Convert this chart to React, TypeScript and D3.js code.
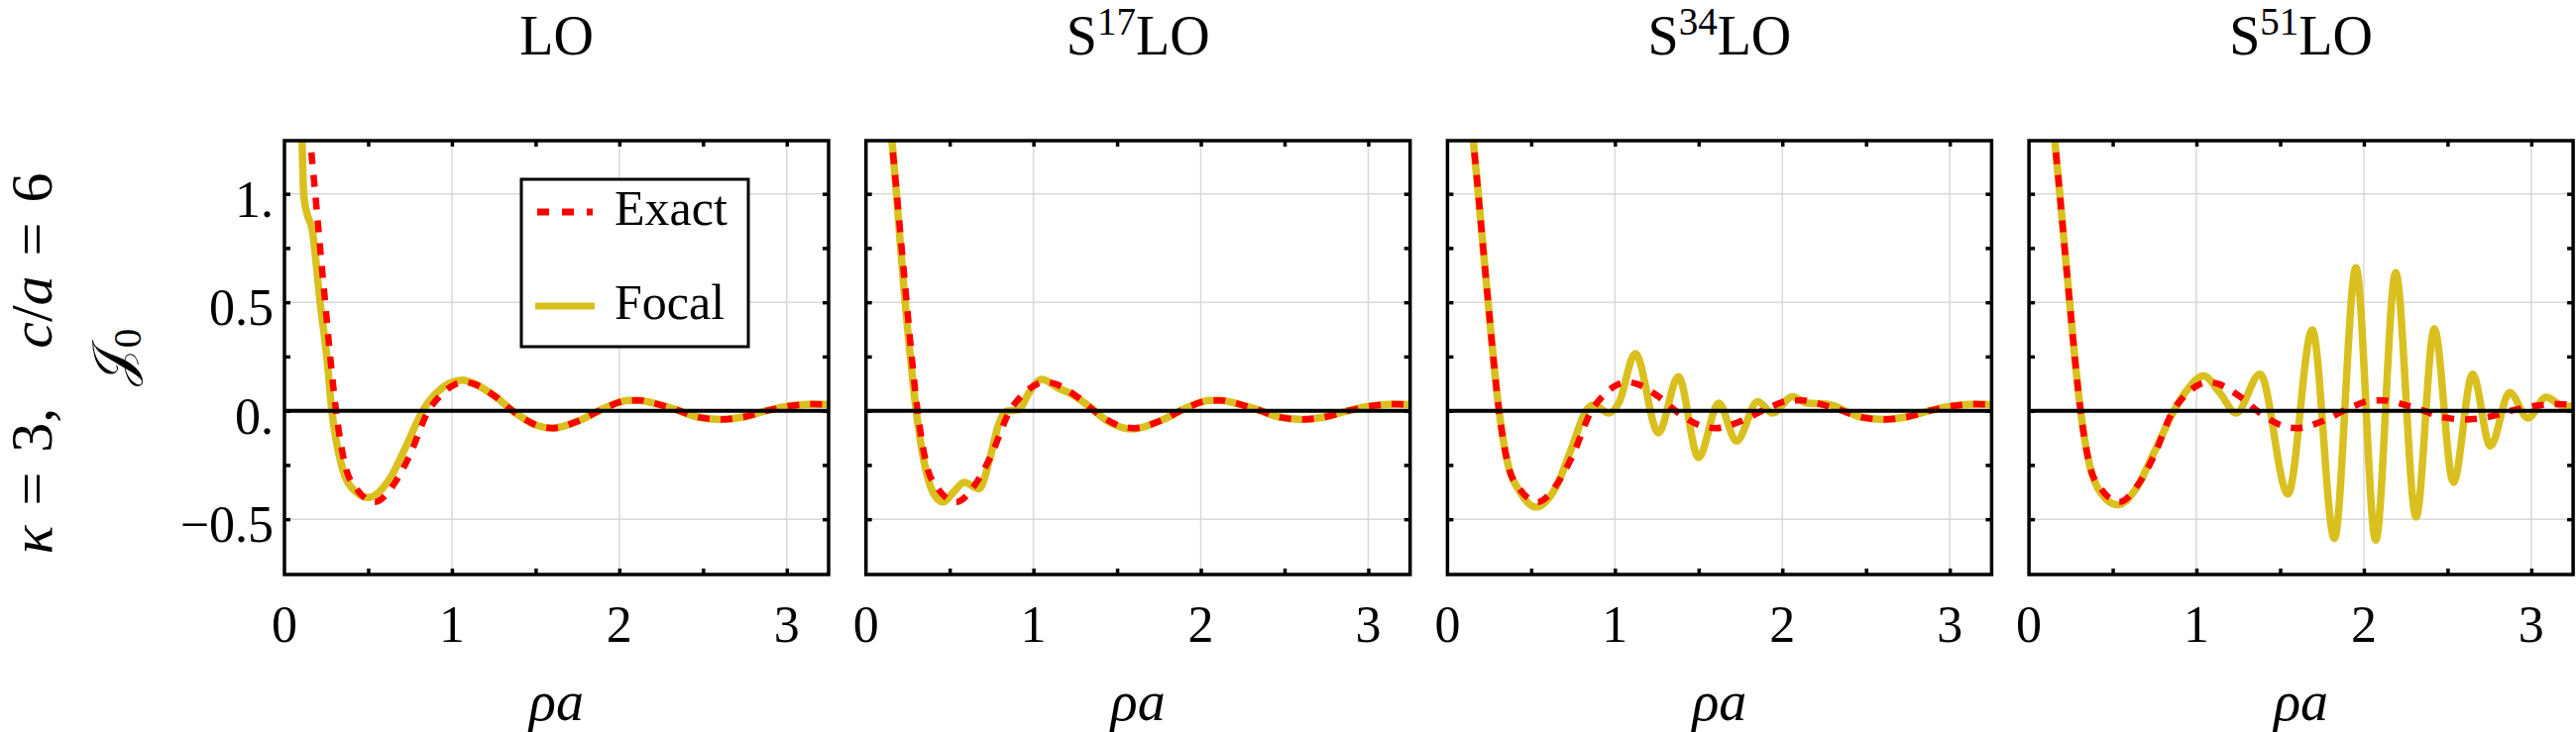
import React, { useRef, useEffect } from "react";
import * as d3 from "d3";

// panel titles: base text + superscript
const titleSup = ["", "17", "34", "51"];

// axis ticks
const xTickValues = [0, 1, 2, 3];
const xTickLabels = ["0", "1", "2", "3"];
const yTickValues = [-0.5, 0, 0.5, 1];
const yTickLabels = ["\u22120.5", "0.", "0.5", "1."];
const xMinorTicks = [0.5, 1, 1.5, 2, 2.5, 3];
const yMinorTicks = [-0.5, -0.25, 0, 0.25, 0.5, 0.75, 1];

// exact curve (same in every panel)
const exactX = [0.135, 0.154, 0.184, 0.213, 0.243, 0.273, 0.308, 0.362, 0.43, 0.54, 0.647, 0.746, 0.86, 0.925, 1.023, 1.075, 1.132, 1.26, 1.379, 1.517, 1.6, 1.774, 1.912, 2.05, 2.12, 2.19, 2.327, 2.466, 2.604, 2.742, 2.88, 3.02, 3.158, 3.25];
const exactY = [1.4, 1.245, 1.0, 0.75, 0.5, 0.25, 0.0, -0.25, -0.36, -0.42, -0.346, -0.209, 0.0, 0.065, 0.123, 0.132, 0.123, 0.065, -0.01, -0.07, -0.08, -0.041, 0.012, 0.047, 0.048, 0.038, 0.008, -0.029, -0.04, -0.029, 0.0, 0.022, 0.03, 0.028];

// focal curves, one per panel
const focalLOX = [0.098, 0.105, 0.115, 0.134, 0.164, 0.213, 0.253, 0.283, 0.342, 0.42, 0.5, 0.628, 0.727, 0.826, 0.905, 1.063, 1.132, 1.26, 1.379, 1.517, 1.6, 1.774, 1.912, 2.05, 2.12, 2.19, 2.327, 2.466, 2.604, 2.742, 2.88, 3.02, 3.158, 3.25];
const focalLOY = [1.4, 1.243, 1.0, 0.91, 0.842, 0.5, 0.248, 0.0, -0.254, -0.37, -0.4, -0.315, -0.163, 0.0, 0.08, 0.141, 0.125, 0.065, -0.01, -0.07, -0.08, -0.041, 0.012, 0.047, 0.048, 0.038, 0.008, -0.029, -0.04, -0.029, 0.0, 0.022, 0.03, 0.028];

const focal17X = [0.135, 0.155, 0.234, 0.3, 0.348, 0.41, 0.461, 0.523, 0.586, 0.676, 0.744, 0.789, 0.835, 0.914, 0.971, 1.05, 1.152, 1.22, 1.333, 1.446, 1.593, 1.774, 1.912, 2.05, 2.12, 2.19, 2.327, 2.466, 2.604, 2.742, 2.88, 3.02, 3.158, 3.25];
const focal17Y = [1.4, 1.245, 0.5, 0.0, -0.239, -0.39, -0.421, -0.375, -0.33, -0.36, -0.208, -0.071, -0.003, 0.005, 0.08, 0.144, 0.103, 0.08, 0.02, -0.049, -0.084, -0.041, 0.012, 0.047, 0.048, 0.038, 0.008, -0.029, -0.04, -0.029, 0.0, 0.022, 0.03, 0.028];

const focal34X = [0.135, 0.154, 0.184, 0.213, 0.243, 0.273, 0.308, 0.362, 0.43, 0.529, 0.647, 0.746, 0.825, 0.875, 0.964, 1.023, 1.122, 1.26, 1.379, 1.5, 1.62, 1.726, 1.853, 1.942, 2.06, 2.147, 2.268, 2.466, 2.604, 2.742, 2.88, 3.02, 3.158, 3.25];
const focal34Y = [1.4, 1.245, 1.0, 0.75, 0.5, 0.25, 0.0, -0.25, -0.37, -0.445, -0.353, -0.163, -0.003, 0.027, -0.011, 0.035, 0.263, -0.102, 0.157, -0.216, 0.035, -0.14, 0.042, -0.011, 0.065, 0.035, 0.03, -0.029, -0.04, -0.029, 0.0, 0.022, 0.03, 0.028];

const focal51X = [0.135, 0.154, 0.184, 0.213, 0.243, 0.273, 0.308, 0.362, 0.43, 0.53, 0.647, 0.747, 0.866, 0.945, 1.043, 1.142, 1.237, 1.38, 1.547, 1.692, 1.824, 1.953, 2.071, 2.19, 2.312, 2.421, 2.535, 2.65, 2.756, 2.871, 2.98, 3.088, 3.197, 3.25];
const focal51Y = [1.4, 1.245, 1.0, 0.75, 0.5, 0.25, 0.0, -0.25, -0.38, -0.434, -0.35, -0.193, 0.0, 0.096, 0.16, 0.08, -0.011, 0.169, -0.384, 0.373, -0.589, 0.659, -0.596, 0.636, -0.49, 0.377, -0.33, 0.169, -0.163, 0.084, -0.034, 0.062, 0.02, 0.023];

const focalX = [focalLOX, focal17X, focal34X, focal51X];
const focalY = [focalLOY, focal17Y, focal34Y, focal51Y];

const W = 2599;
const H = 739;
const PANEL_LEFT = 287;
const PANEL_STEP = 586.7;
const PANEL_W = 549;
const PANEL_TOP = 142;
const PANEL_H = 438;
const FONT = "'Liberation Serif', 'DejaVu Serif', serif";
const GOLD = "#d9c01f";
const RED = "#ff0000";

const App = () => {
  const ref = useRef<SVGSVGElement>(null);

  useEffect(() => {
    const svg = d3.select(ref.current);
    svg.selectAll("*").remove();

    const x = d3.scaleLinear().domain([0, 3.25]).range([0, PANEL_W]);
    const y = d3.scaleLinear().domain([-0.755, 1.245]).range([PANEL_H, 0]);
    const line = d3
      .line<[number, number]>()
      .x((d) => x(d[0]))
      .y((d) => y(d[1]))
      .curve(d3.curveMonotoneX);

    svg
      .append("defs")
      .append("clipPath")
      .attr("id", "plot-clip")
      .append("rect")
      .attr("width", PANEL_W)
      .attr("height", PANEL_H);

    const exact = d3.zip(exactX, exactY) as [number, number][];

    titleSup.forEach((sup, i) => {
      const left = PANEL_LEFT + i * PANEL_STEP;
      const g = svg.append("g").attr("transform", `translate(${left},${PANEL_TOP})`);

      // grid
      g.selectAll(".gx")
        .data([1, 2, 3])
        .join("line")
        .attr("x1", (d) => x(d))
        .attr("x2", (d) => x(d))
        .attr("y1", 0)
        .attr("y2", PANEL_H)
        .attr("stroke", "#d9d9d9")
        .attr("stroke-width", 1.5);
      g.selectAll(".gy")
        .data([-0.5, 0.5, 1])
        .join("line")
        .attr("x1", 0)
        .attr("x2", PANEL_W)
        .attr("y1", (d) => y(d))
        .attr("y2", (d) => y(d))
        .attr("stroke", "#d9d9d9")
        .attr("stroke-width", 1.5);

      // curves
      const plot = g.append("g").attr("clip-path", "url(#plot-clip)");
      const focal = d3.zip(focalX[i], focalY[i]) as [number, number][];
      plot
        .append("path")
        .attr("d", line(focal))
        .attr("fill", "none")
        .attr("stroke", GOLD)
        .attr("stroke-width", 7.5)
        .attr("stroke-linejoin", "round");
      plot
        .append("path")
        .attr("d", line(exact))
        .attr("fill", "none")
        .attr("stroke", RED)
        .attr("stroke-width", 6.5)
        .attr("stroke-dasharray", "12 11");

      // zero line
      g.append("line")
        .attr("x1", 0)
        .attr("x2", PANEL_W)
        .attr("y1", y(0))
        .attr("y2", y(0))
        .attr("stroke", "#000")
        .attr("stroke-width", 4);

      // inward ticks on all four sides
      const tickAxes = [
        { ax: d3.axisBottom(x).tickValues(xMinorTicks), t: `translate(0,${PANEL_H})` },
        { ax: d3.axisTop(x).tickValues(xMinorTicks), t: "translate(0,0)" },
        { ax: d3.axisLeft(y).tickValues(yMinorTicks), t: "translate(0,0)" },
        { ax: d3.axisRight(y).tickValues(yMinorTicks), t: `translate(${PANEL_W},0)` },
      ];
      tickAxes.forEach(({ ax, t }) => {
        const a = g
          .append("g")
          .attr("transform", t)
          .call(ax.tickSizeInner(-6).tickSizeOuter(0).tickFormat(() => ""));
        a.select(".domain").remove();
        a.selectAll(".tick line").attr("stroke", "#000").attr("stroke-width", 3.5);
      });

      // frame
      g.append("rect")
        .attr("width", PANEL_W)
        .attr("height", PANEL_H)
        .attr("fill", "none")
        .attr("stroke", "#000")
        .attr("stroke-width", 3.5);

      // x tick labels
      g.selectAll(".xl")
        .data(xTickValues)
        .join("text")
        .attr("x", (d) => x(d))
        .attr("y", 506)
        .attr("text-anchor", "middle")
        .style("font-family", FONT)
        .style("font-size", "52px")
        .text((d, k) => xTickLabels[k]);

      // x axis label
      g.append("text")
        .attr("x", PANEL_W / 2)
        .attr("y", 585)
        .attr("text-anchor", "middle")
        .style("font-family", FONT)
        .style("font-size", "56px")
        .style("font-style", "italic")
        .text("\u03c1a");

      // title
      const title = svg
        .append("text")
        .attr("x", left + PANEL_W / 2)
        .attr("y", 55)
        .attr("text-anchor", "middle")
        .style("font-family", FONT)
        .style("font-size", "56px");
      title.append("tspan").text(sup ? "S" : "LO");
      if (sup) {
        title.append("tspan").attr("dy", -20).style("font-size", "39px").text(sup);
        title.append("tspan").attr("dy", 20).text("LO");
      }

      if (i === 0) {
        g.selectAll(".yl")
          .data(yTickValues)
          .join("text")
          .attr("x", -11)
          .attr("y", (d) => y(d) + 23)
          .attr("text-anchor", "end")
          .style("font-family", FONT)
          .style("font-size", "52px")
          .text((d, k) => yTickLabels[k]);

        // legend
        const lg = g.append("g").attr("transform", "translate(239,39)");
        lg.append("rect")
          .attr("width", 229)
          .attr("height", 169)
          .attr("fill", "#fff")
          .attr("stroke", "#000")
          .attr("stroke-width", 3);
        lg.append("line")
          .attr("x1", 16)
          .attr("x2", 72)
          .attr("y1", 33)
          .attr("y2", 33)
          .attr("stroke", RED)
          .attr("stroke-width", 7)
          .attr("stroke-dasharray", "12 13");
        lg.append("line")
          .attr("x1", 14)
          .attr("x2", 74)
          .attr("y1", 128)
          .attr("y2", 128)
          .attr("stroke", GOLD)
          .attr("stroke-width", 7);
        [["Exact", 46], ["Focal", 141]].forEach(([t, yy]) => {
          lg.append("text")
            .attr("x", 94)
            .attr("y", yy as number)
            .style("font-family", FONT)
            .style("font-size", "50px")
            .text(t as string);
        });
      }
    });

    // rotated left labels
    const lab = svg
      .append("text")
      .attr("transform", `translate(52,${PANEL_TOP + PANEL_H / 2 + 6}) rotate(-90)`)
      .attr("text-anchor", "middle")
      .style("font-family", FONT)
      .style("font-size", "60px")
      .style("white-space", "pre");
    lab.append("tspan").style("font-style", "italic").text("\u03ba");
    lab.append("tspan").text("\u2004=\u20043,\u2003");
    lab.append("tspan").style("font-style", "italic").text("c");
    lab.append("tspan").text("/");
    lab.append("tspan").style("font-style", "italic").text("a");
    lab.append("tspan").text("\u2004=\u20046");

    const jl = svg
      .append("text")
      .attr("transform", `translate(132,${PANEL_TOP + PANEL_H / 2}) rotate(-90)`)
      .attr("text-anchor", "middle")
      .style("font-family", FONT)
      .style("font-size", "56px");
    jl.append("tspan").text("\ud835\udca5");
    jl.append("tspan").attr("dy", 10).style("font-size", "39px").text("0");
  }, []);

  return (
    <div>
      <style>{"body{margin:0}"}</style>
      <svg ref={ref} width={W} height={H} style={{ display: "block", background: "#fff" }}></svg>
    </div>
  );
};

export default App;
